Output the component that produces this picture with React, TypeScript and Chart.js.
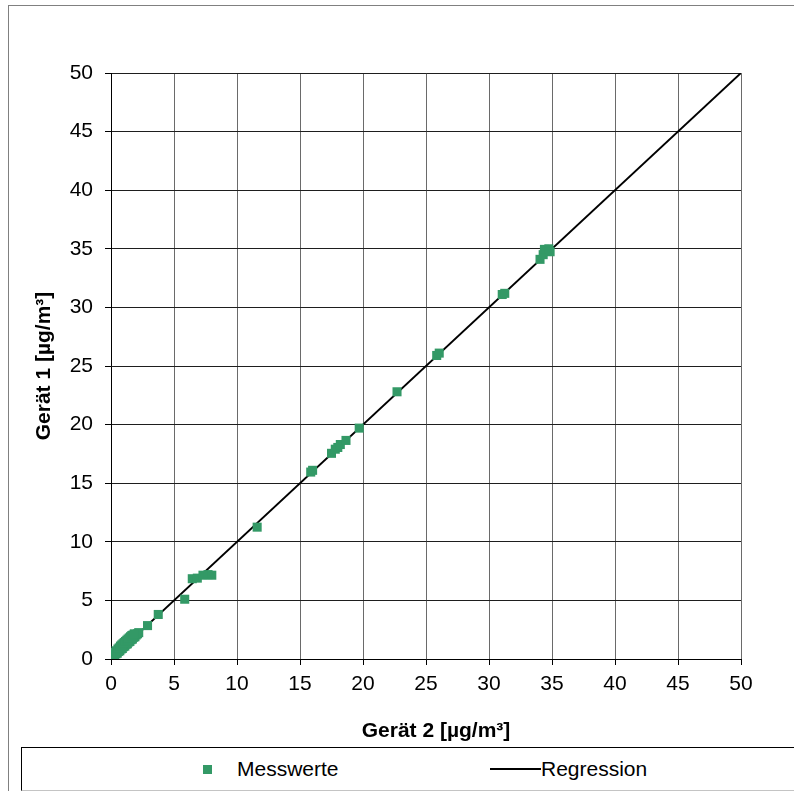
import React, { useEffect, useRef } from "react";
import { Chart, registerables } from "chart.js";

Chart.register(...registerables);

// Messwerte: Gerät 2 (x) vs. Gerät 1 (y), µg/m³
const geraet2: number[] = [
  0.2, 0.3, 0.4, 0.5, 0.6, 0.7, 0.8, 0.9, 1.0, 1.1, 1.2, 1.3, 1.4, 1.5, 1.6, 1.7,
  1.8, 1.9, 2.0, 2.1, 2.2,
  0.3, 0.4, 0.55, 0.65, 0.75, 0.85, 0.95, 1.05, 1.15, 1.25, 1.35, 1.45, 1.55, 1.65, 1.75, 1.85,
  2.9, 3.75, 5.85, 6.45, 6.85, 7.3, 7.7, 8.0, 11.6, 15.85, 16.0, 17.5, 17.8, 18.0, 18.2,
  18.65, 19.7, 22.7, 25.85, 26.05, 31.05, 31.25, 34.05, 34.3, 34.4, 34.75, 34.85,
];
const geraet1: number[] = [
  0.25, 0.3, 0.45, 0.5, 0.65, 0.7, 0.85, 0.9, 1.05, 1.1, 1.25, 1.3, 1.45, 1.5, 1.65, 1.7,
  1.85, 1.9, 2.05, 2.15, 2.25,
  0.55, 0.7, 0.85, 0.95, 1.1, 1.2, 1.3, 1.4, 1.5, 1.6, 1.7, 1.8, 1.9, 2.0, 2.05, 2.15,
  2.85, 3.8, 5.1, 6.85, 6.9, 7.15, 7.2, 7.15, 11.25, 15.95, 16.1, 17.55, 17.9, 18.05, 18.3,
  18.65, 19.7, 22.8, 25.9, 26.1, 31.1, 31.2, 34.1, 34.5, 34.95, 35.0, 34.75,
];
// Regression line endpoints
const regressionX: number[] = [0, 50];
const regressionY: number[] = [0, 50];

const axisMin = 0;
const axisMax = 50;
const axisStep = 5;

const seriesNames = ["Messwerte", "Regression"];
const xTitle = "Gerät 2 [µg/m³]";
const yTitle = "Gerät 1 [µg/m³]";

const GREEN = "#339966";
const FONT = "'Liberation Sans', Arial, sans-serif";

const xTitlePlugin = {
  id: "xTitlePlugin",
  afterDraw(chart: any) {
    const { ctx, chartArea } = chart;
    ctx.save();
    ctx.font = `bold 21px ${FONT}`;
    ctx.fillStyle = "#000";
    ctx.textAlign = "center";
    ctx.textBaseline = "middle";
    const cx = (chartArea.left + chartArea.right) / 2 + 10;
    ctx.fillText(xTitle, cx, chartArea.bottom + 72);
    ctx.restore();
  },
};

export default function App() {
  const canvasRef = useRef<HTMLCanvasElement | null>(null);

  useEffect(() => {
    const canvas = canvasRef.current;
    if (!canvas) return;
    const points = geraet2.map((x, i) => ({ x, y: geraet1[i] }));
    const reg = regressionX.map((x, i) => ({ x, y: regressionY[i] }));
    const chart = new Chart(canvas, {
      type: "scatter",
      data: {
        datasets: [
          {
            label: seriesNames[0],
            data: points,
            pointStyle: "rect",
            pointRadius: 6.4,
            pointHoverRadius: 6.4,
            backgroundColor: GREEN,
            borderColor: GREEN,
            borderWidth: 0,
            showLine: false,
          },
          {
            label: seriesNames[1],
            data: reg,
            type: "line",
            borderColor: "#000000",
            borderWidth: 2,
            pointRadius: 0,
            fill: false,
            tension: 0,
          } as any,
        ],
      },
      options: {
        responsive: false,
        animation: false,
        events: [],
        layout: { padding: { left: 32, right: 53, top: 73, bottom: 47 } },
        plugins: {
          legend: { display: false },
          tooltip: { enabled: false },
        },
        scales: {
          x: {
            type: "linear",
            min: axisMin,
            max: axisMax,
            afterFit: (s: any) => {
              s.height = 85;
            },
            ticks: {
              stepSize: axisStep,
              color: "#000",
              padding: 7,
              maxRotation: 0,
              font: { family: FONT, size: 21 },
            },
            grid: {
              color: "#6a6a6a",
              lineWidth: 1,
              tickLength: 6,
              tickColor: "#000",
            },
            border: { color: "#000", width: 1 },
            title: { display: false },
          },
          y: {
            type: "linear",
            min: axisMin,
            max: axisMax,
            afterFit: (s: any) => {
              s.width = 79;
            },
            ticks: {
              stepSize: axisStep,
              color: "#000",
              padding: 12,
              font: { family: FONT, size: 21 },
            },
            grid: {
              color: "#1e1e1e",
              lineWidth: 1,
              tickLength: 6,
              tickColor: "#000",
            },
            border: { color: "#000", width: 1 },
            title: {
              display: true,
              text: yTitle,
              color: "#000",
              padding: { top: 0, bottom: 0 },
              font: { family: FONT, size: 21, weight: "bold" },
            },
          },
        },
      },
      plugins: [xTitlePlugin],
    });
    return () => chart.destroy();
  }, []);

  const textStyle: React.CSSProperties = {
    position: "absolute",
    fontFamily: FONT,
    fontSize: 21,
    color: "#000",
    lineHeight: "24px",
    top: 757,
    whiteSpace: "nowrap",
  };

  return (
    <div
      style={{
        position: "fixed",
        left: 0,
        top: 0,
        width: 794,
        height: 791,
        overflow: "hidden",
        background: "#fff",
      }}
    >
      <div
        style={{
          position: "absolute",
          left: 8,
          top: 5,
          width: 900,
          height: 900,
          borderLeft: "1px solid #808080",
          borderTop: "1px solid #808080",
        }}
      />
      <canvas
        ref={canvasRef}
        width={794}
        height={791}
        style={{ position: "absolute", left: 0, top: 0, display: "block" }}
      />
      <div
        style={{
          position: "absolute",
          left: 21,
          top: 747,
          width: 900,
          height: 42,
          borderTop: "1px solid #000",
          borderLeft: "1px solid #000",
          borderBottom: "1px solid #c4c4c4",
          background: "#fff",
        }}
      />
      <div
        style={{
          position: "absolute",
          left: 203,
          top: 765,
          width: 9,
          height: 9,
          background: GREEN,
        }}
      />
      <div style={{ ...textStyle, left: 237 }}>{seriesNames[0]}</div>
      <div
        style={{
          position: "absolute",
          left: 490,
          top: 768,
          width: 51,
          height: 2,
          background: "#000",
        }}
      />
      <div style={{ ...textStyle, left: 541 }}>{seriesNames[1]}</div>
    </div>
  );
}
